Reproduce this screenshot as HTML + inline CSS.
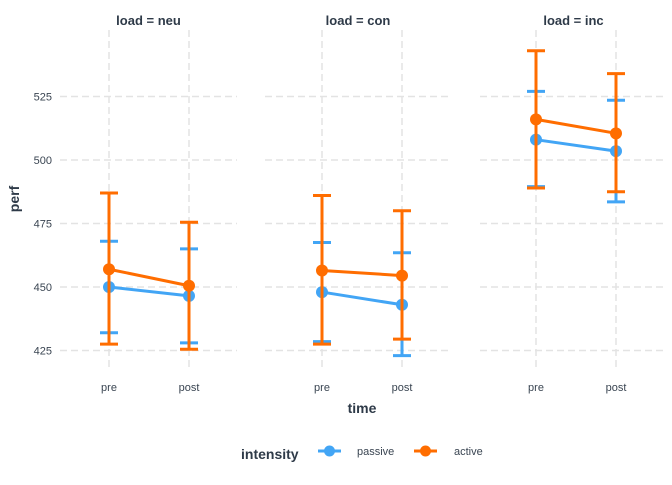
<!DOCTYPE html>
<html><head><meta charset="utf-8"><style>
body{margin:0;background:#fff;font-family:"Liberation Sans",Arial,sans-serif;}
</style></head><body>
<svg id="chart" width="672" height="480" xmlns="http://www.w3.org/2000/svg" font-family="Liberation Sans, Arial, sans-serif"></svg>
<script>
const panels = ["neu","con","inc"];
const times = ["pre","post"];
const passiveMean = [[450,446.5],[448,443],[508,503.5]];
const passiveLo = [[432,428],[428.5,423],[489.5,483.5]];
const passiveHi = [[468,465],[467.5,463.5],[527,523.5]];
const activeMean = [[457,450.5],[456.5,454.5],[516,510.5]];
const activeLo = [[427.5,425.5],[427.5,429.5],[489,487.5]];
const activeHi = [[487,475.5],[486,480],[543,534]];
const yTicks = [425,450,475,500,525];

const NS="http://www.w3.org/2000/svg";
const svg=document.getElementById('chart');
function el(t,a,p){const e=document.createElementNS(NS,t);for(const k in a)e.setAttribute(k,a[k]);(p||svg).appendChild(e);return e;}
const panelX=[[60,237],[265,451],[480,667]];
const xOff=[[109,189],[322,402],[536,616]];
function y(v){return 160+(500-v)*2.54;}
const plotTop=30,plotBottom=368;
const txtCol='#3a4552', titleCol='#2e3a48';

panels.forEach((p,i)=>{
  const g=el('g',{});
  
  
  const [x0,x1]=panelX[i];
  yTicks.forEach(t=>{
    const l=el('line',{x1:x0,x2:x1,y1:y(t),y2:y(t),stroke:'#e3e3e3','stroke-width':1.5,'stroke-dasharray':'7,4'},g);
    
    
  });
  times.forEach((t,j)=>{
    const x=xOff[i][j];
    const l=el('line',{x1:x,x2:x,y1:plotTop,y2:plotBottom,stroke:'#e3e3e3','stroke-width':1.5,'stroke-dasharray':'7,4'},g);
    
    
    const tx=el('text',{x:x,y:391,'font-size':11,fill:txtCol,'text-anchor':'middle'},g);
    tx.textContent=t;
    
    
  });
  const st=el('text',{x:(x0+x1)/2,y:25,'font-size':13,'font-weight':'bold',fill:titleCol,'text-anchor':'middle'},g);
  st.textContent='load = '+p;
  
  
  const series=[["passive","#42A5F5",passiveMean,passiveLo,passiveHi],["active","#FF6D00",activeMean,activeLo,activeHi]];
  series.forEach(([nm,c,m,lo,hi])=>{
    const sg=el('g',{},g);
    
    
    times.forEach((t,j)=>{
      const x=xOff[i][j];
      const e=el('path',{d:`M${x-9},${y(lo[i][j])}H${x+9}M${x},${y(lo[i][j])}V${y(hi[i][j])}M${x-9},${y(hi[i][j])}H${x+9}`,stroke:c,'stroke-width':3,fill:'none'},sg);
      
      
    });
    const ln=el('line',{x1:xOff[i][0],y1:y(m[i][0]),x2:xOff[i][1],y2:y(m[i][1]),stroke:c,'stroke-width':3},sg);
    
    
    times.forEach((t,j)=>{
      const pt=el('circle',{cx:xOff[i][j],cy:y(m[i][j]),r:6,fill:c},sg);
      
      
    });
  });
});
yTicks.forEach(t=>{
  const tx=el('text',{x:52,y:y(t)+4,'font-size':11,fill:txtCol,'text-anchor':'end'});
  tx.textContent=t;
  
  
});
const yt=el('text',{x:0,y:0,'font-size':14,'font-weight':'bold',fill:titleCol,'text-anchor':'middle',transform:'translate(19,199) rotate(-90)'});
yt.textContent='perf';


const xt=el('text',{x:362,y:413,'font-size':14,'font-weight':'bold',fill:titleCol,'text-anchor':'middle'});
xt.textContent='time';


const lg=el('g',{});


const lt=el('text',{x:241,y:459,'font-size':14,'font-weight':'bold',fill:titleCol},lg);
lt.textContent='intensity';


[["passive","#42A5F5",318,357],["active","#FF6D00",414,454]].forEach(([n,c,x,tx0])=>{
  const e=el('g',{},lg);
  
  
  el('line',{x1:x,x2:x+23,y1:451,y2:451,stroke:c,'stroke-width':3},e);
  el('circle',{cx:x+11.5,cy:451,r:5.5,fill:c},e);
  const t=el('text',{x:tx0,y:455,'font-size':11,fill:txtCol},e);
  t.textContent=n;
});
</script>
</body></html>
